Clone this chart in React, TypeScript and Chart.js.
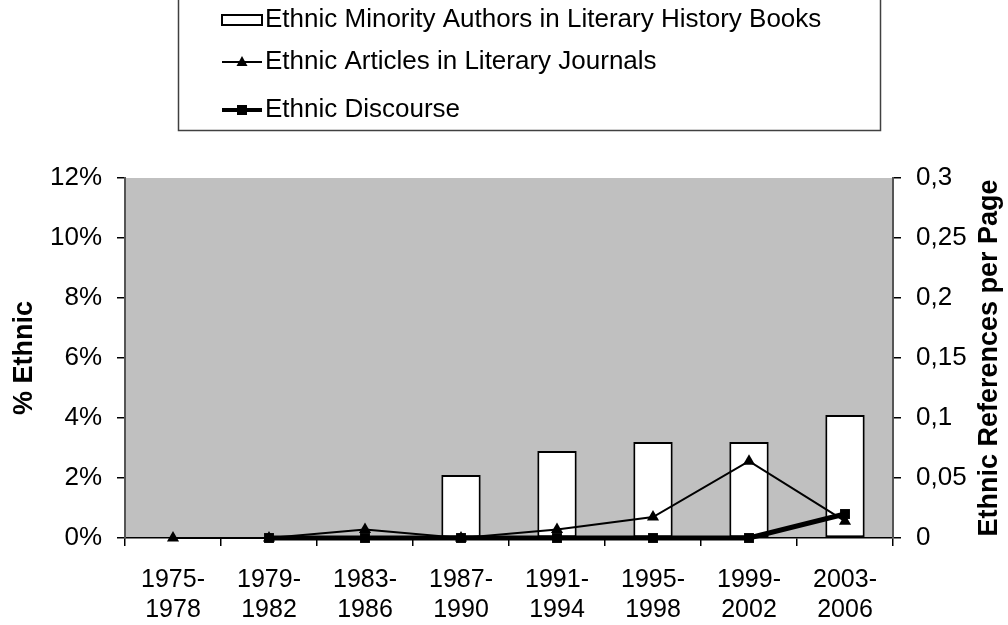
import React, { useEffect, useRef } from 'react';
import { Chart, registerables } from 'chart.js';

Chart.register(...registerables);

const FONT = '"Liberation Sans", Arial, Helvetica, sans-serif';

// Four-year periods on the category axis
const periods = ['1975-1978', '1979-1982', '1983-1986', '1987-1990', '1991-1994', '1995-1998', '1999-2002', '2003-2006'];

// Share of ethnic minority authors in literary history books (%)
const minorityAuthorsPct = [0, 0, 0, 2.1, 2.9, 3.2, 3.2, 4.1];
// Ethnic articles in literary journals (references per page)
const journalArticlesPerPage = [0, 0, 0.007, 0, 0.007, 0.0175, 0.064, 0.014];
// Ethnic discourse (references per page)
const discoursePerPage = [null, 0, 0, 0, 0, 0, 0, 0.02];

const leftTickLabels = ['0%', '2%', '4%', '6%', '8%', '10%', '12%'];
const rightTickLabels = ['0', '0,05', '0,1', '0,15', '0,2', '0,25', '0,3'];

const legendLabels = [
  'Ethnic Minority Authors in Literary History Books',
  'Ethnic Articles in Literary Journals',
  'Ethnic Discourse',
];
const leftTitle = '% Ethnic';
const rightTitle = 'Ethnic References per Page';

const decorations = {
  id: 'decorations',
  beforeDraw(chart: any) {
    const { ctx, chartArea: a } = chart;
    ctx.save();
    ctx.fillStyle = '#c0c0c0';
    ctx.fillRect(a.left, a.top, a.right - a.left, a.bottom - a.top);
    ctx.restore();
  },
  afterDraw(chart: any) {
    const { ctx, chartArea: a } = chart;
    ctx.save();

    // Legend frame
    ctx.strokeStyle = '#404040';
    ctx.lineWidth = 1.5;
    ctx.strokeRect(178.5, -10, 702, 140.5);

    const rows = [20, 62, 110];
    const sx0 = 222;
    const sx1 = 262;
    const mid = (sx0 + sx1) / 2;
    ctx.fillStyle = '#000';
    ctx.strokeStyle = '#000';

    // bar swatch
    ctx.lineWidth = 2;
    ctx.fillStyle = '#fff';
    ctx.fillRect(sx0, rows[0] - 5, sx1 - sx0, 10);
    ctx.strokeRect(sx0, rows[0] - 5, sx1 - sx0, 10);

    // triangle line swatch
    ctx.beginPath();
    ctx.moveTo(sx0, rows[1]);
    ctx.lineTo(sx1, rows[1]);
    ctx.stroke();
    ctx.fillStyle = '#000';
    ctx.beginPath();
    ctx.moveTo(mid, rows[1] - 6);
    ctx.lineTo(mid + 5.5, rows[1] + 4);
    ctx.lineTo(mid - 5.5, rows[1] + 4);
    ctx.closePath();
    ctx.fill();

    // square line swatch
    ctx.lineWidth = 4;
    ctx.beginPath();
    ctx.moveTo(sx0, rows[2]);
    ctx.lineTo(sx1, rows[2]);
    ctx.stroke();
    ctx.fillRect(mid - 5, rows[2] - 5, 10, 10);

    ctx.font = `26px ${FONT}`;
    ctx.textBaseline = 'middle';
    ctx.textAlign = 'left';
    legendLabels.forEach((t, i) => ctx.fillText(t, sx1 + 3, rows[i]));

    // Axis titles, both reading bottom to top
    const cy = (a.top + a.bottom) / 2;
    ctx.font = `bold 27px ${FONT}`;
    ctx.textAlign = 'center';
    ctx.save();
    ctx.translate(25, cy);
    ctx.rotate(-Math.PI / 2);
    ctx.fillText(leftTitle, 0, 0);
    ctx.restore();
    ctx.save();
    ctx.translate(990, cy);
    ctx.rotate(-Math.PI / 2);
    ctx.fillText(rightTitle, 0, 0);
    ctx.restore();

    ctx.restore();
  },
};

export default function App() {
  const canvasRef = useRef<HTMLCanvasElement | null>(null);

  useEffect(() => {
    const canvas = canvasRef.current;
    if (!canvas) return;
    Chart.defaults.font.family = FONT;
    Chart.defaults.color = '#000';

    const chart = new Chart(canvas, {
      type: 'bar',
      data: {
        labels: periods.map((p) => [p.slice(0, 5), p.slice(5)]),
        datasets: [
          {
            type: 'line',
            label: legendLabels[2],
            data: discoursePerPage,
            yAxisID: 'y1',
            borderColor: '#000',
            backgroundColor: '#000',
            borderWidth: 5,
            pointStyle: 'rect',
            pointRadius: 7,
            pointBackgroundColor: '#000',
            pointBorderColor: '#000',
            pointBorderWidth: 0,
            tension: 0,
            clip: false,
            order: 1,
          } as any,
          {
            type: 'line',
            label: legendLabels[1],
            data: journalArticlesPerPage,
            yAxisID: 'y1',
            borderColor: '#000',
            backgroundColor: '#000',
            borderWidth: 2,
            pointStyle: 'triangle',
            pointRadius: 7,
            pointBackgroundColor: '#000',
            pointBorderColor: '#000',
            pointBorderWidth: 0,
            tension: 0,
            clip: false,
            order: 2,
          } as any,
          {
            type: 'bar',
            label: legendLabels[0],
            data: minorityAuthorsPct,
            yAxisID: 'y',
            backgroundColor: '#fff',
            borderColor: '#000',
            borderWidth: 2,
            borderSkipped: false,
            barPercentage: 0.41,
            categoryPercentage: 1,
            order: 3,
          } as any,
        ],
      },
      options: {
        animation: false,
        responsive: false,
        maintainAspectRatio: false,
        layout: { padding: { top: 178, left: 0, right: 0, bottom: 0 } },
        plugins: {
          legend: { display: false },
          tooltip: { enabled: false },
        },
        scales: {
          x: {
            offset: true,
            grid: { offset: true, drawOnChartArea: false, tickLength: 8, color: '#000', lineWidth: 1.5 },
            border: { color: '#000', width: 1.5 },
            ticks: {
              color: '#000',
              font: { size: 25, lineHeight: 1.2 },
              padding: 19,
              maxRotation: 0,
              autoSkip: false,
            },
            afterFit: (s: any) => {
              s.height = 87;
            },
          },
          y: {
            position: 'left',
            min: 0,
            max: 12,
            grid: { drawOnChartArea: false, tickLength: 8, color: '#000', lineWidth: 1.5 },
            border: { color: '#555', width: 2 },
            ticks: {
              stepSize: 2,
              color: '#000',
              font: { size: 26 },
              padding: 15,
              callback: (_v: any, i: number) => leftTickLabels[i],
            },
            afterFit: (s: any) => {
              s.width = 125;
            },
          },
          y1: {
            position: 'right',
            min: 0,
            max: 0.3,
            grid: { drawOnChartArea: false, tickLength: 8, color: '#000', lineWidth: 1.5 },
            border: { color: '#555', width: 2 },
            ticks: {
              stepSize: 0.05,
              color: '#000',
              font: { size: 26 },
              padding: 15,
              callback: (_v: any, i: number) => rightTickLabels[i],
            },
            afterFit: (s: any) => {
              s.width = 115;
            },
          },
        },
      } as any,
      plugins: [decorations],
    });

    return () => chart.destroy();
  }, []);

  return (
    <div style={{ position: 'fixed', left: 0, top: 0, width: 1008, height: 625, background: '#fff' }}>
      <canvas ref={canvasRef} width={1008} height={625} style={{ display: 'block' }} />
    </div>
  );
}
